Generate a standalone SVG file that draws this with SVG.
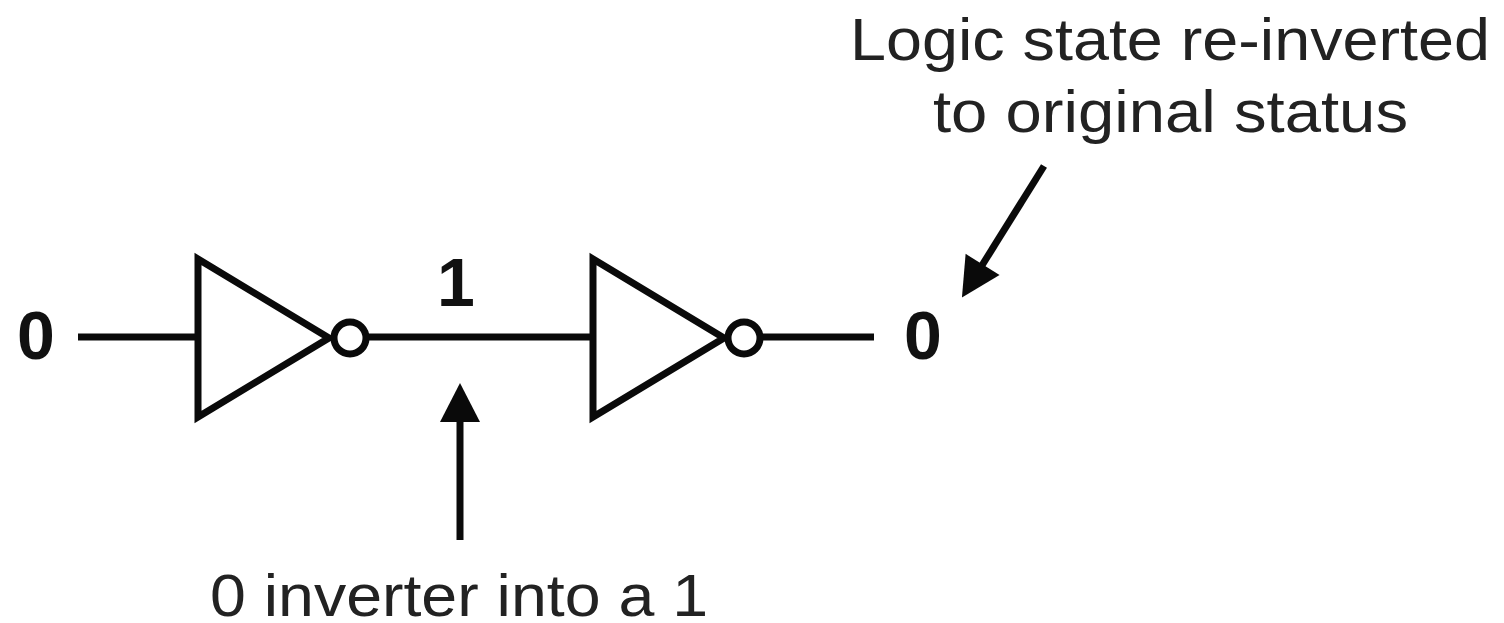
<svg xmlns="http://www.w3.org/2000/svg" width="1504" height="623" viewBox="0 0 1504 623">
<style>
.s{fill:none;stroke:#0a0a0a;stroke-width:7}
.l{fill:none;stroke:#0a0a0a;stroke-width:7}
.t{font-family:"Liberation Sans",Arial,sans-serif;fill:#222;font-size:60px;text-anchor:middle}
.b{font-family:"Liberation Sans",Arial,sans-serif;fill:#111;font-size:68px;font-weight:bold;text-anchor:middle}
</style>
<defs>
<marker id="a" markerUnits="userSpaceOnUse" markerWidth="44" markerHeight="44" refX="3" refY="20" orient="auto" overflow="visible"><path d="M0 0L39 20L0 40Z" fill="#0a0a0a"/></marker>
</defs>
<rect width="1504" height="623" fill="#fff"/>
<g id="connectors">
<path class="l" d="M78 337H197M368 337H592M762 337H874"/>
<path class="l" d="M460 540V419" marker-end="url(#a)"/>
<path class="l" d="M1044 166L981 267" marker-end="url(#a)"/>
</g>
<g id="inverter1"><path class="s" d="M198 259L329 338L198 417Z"/><circle class="s" cx="350" cy="338" r="16"/></g>
<g id="inverter2"><path class="s" d="M593 259L724 338L593 417Z"/><circle class="s" cx="744" cy="338" r="16"/></g>
<g id="labels">
<text class="b" x="36" y="359">0</text>
<text class="b" x="456" y="306">1</text>
<text class="b" x="923" y="359">0</text>
<text class="t" x="1170" y="60" textLength="640" lengthAdjust="spacingAndGlyphs">Logic state re-inverted</text>
<text class="t" x="1170.5" y="132" textLength="475" lengthAdjust="spacingAndGlyphs">to original status</text>
<text class="t" x="459" y="616" textLength="498" lengthAdjust="spacingAndGlyphs">0 inverter into a 1</text>
</g>
</svg>
